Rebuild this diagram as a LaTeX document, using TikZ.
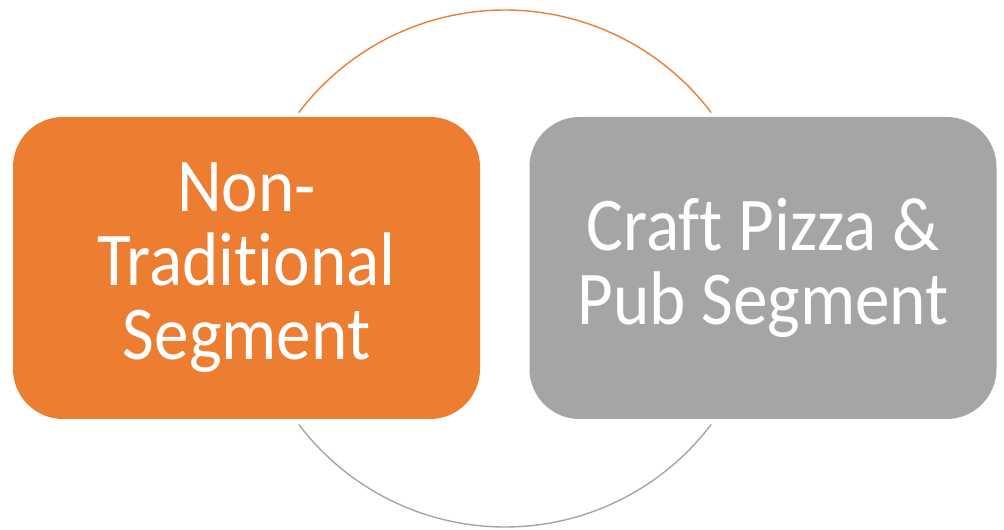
\documentclass[tikz,border=0pt]{standalone}
\usepackage{fontspec}
\setmainfont{Carlito}[FakeStretch=0.91, Ligatures={NoCommon}]
\definecolor{segorange}{HTML}{ED7D31}
\definecolor{seggray}{HTML}{A5A5A5}
\begin{document}
\begin{tikzpicture}[x=1pt,y=1pt,
  segbox/.style={rounded corners=50pt, minimum width=467pt, minimum height=302pt,
    inner sep=0pt, text=white, align=center,
    font=\fontsize{76}{74}\selectfont},
  ring/.style={line width=1.4pt}]
  \useasboundingbox (0,0) rectangle (1004,530);
  % ring behind the two segments
  \coordinate (ctr) at (505,261.5);
  \draw[ring, segorange] (ctr) ++(142.9:258.5) arc[start angle=142.9, end angle=37.1, radius=258.5];
  \draw[ring, seggray] (ctr) ++(217.1:258.5) arc[start angle=217.1, end angle=322.9, radius=258.5];
  % the two segments
  \node[segbox, fill=segorange] (nontrad) at (246.5,262) {Non-\\Traditional\\Segment};
  \node[segbox, fill=seggray] (craft) at (763,262) {Craft Pizza \&\\Pub Segment};
\end{tikzpicture}
\end{document}
